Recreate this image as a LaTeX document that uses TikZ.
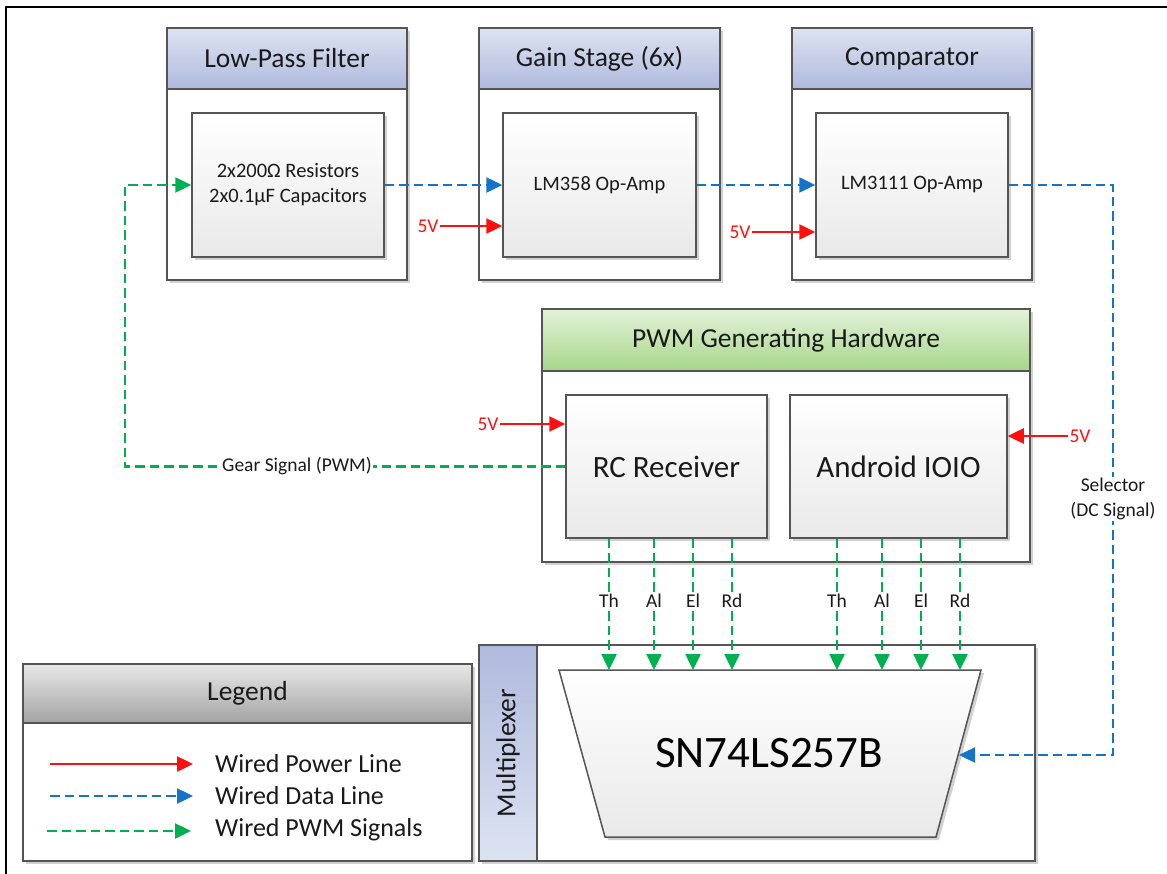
\documentclass[tikz,border=0pt]{standalone}
\usepackage{fontspec}
\usepackage{graphicx}
\setmainfont{Carlito}
\usetikzlibrary{arrows.meta,shadows}
\definecolor{txt}{HTML}{1A1A1A}
\definecolor{bord}{HTML}{555555}
\definecolor{pwr}{HTML}{FF1010}
\definecolor{dat}{HTML}{1573C9}
\definecolor{pwmc}{HTML}{00B050}
\definecolor{hb1}{HTML}{DEE3F2}
\definecolor{hb2}{HTML}{AFBADD}
\definecolor{hg1}{HTML}{E3F2D8}
\definecolor{hg2}{HTML}{A6D68A}
\definecolor{hy1}{HTML}{E8E8E8}
\definecolor{hy2}{HTML}{A3A3A3}
\definecolor{ib}{HTML}{E9E9E9}
\begin{document}
\begin{tikzpicture}[x=1pt,y=-1pt,
  every node/.style={text=txt},
  shd/.style={drop shadow={shadow xshift=3pt,shadow yshift=-3pt,opacity=0.18,fill=black}},
  grp/.style={draw=bord,line width=1.5pt,fill=white,rectangle,inner sep=0pt,shd},
  hdr/.style={draw=bord,line width=1.5pt,rectangle,inner sep=0pt,font=\fontsize{27.5}{32}\selectfont},
  inbox/.style={draw=bord,line width=1.5pt,rectangle,inner sep=0pt,top color=white,bottom color=ib,shd},
  smallf/.style={font=\fontsize{20.5}{25}\selectfont},
  bigf/.style={font=\fontsize{31}{36}\selectfont},
  lbl/.style={fill=white,inner sep=1.5pt,font=\fontsize{19.5}{24}\selectfont},
  vlbl/.style={inner sep=1pt,text=pwr,font=\fontsize{19.5}{24}\selectfont},
  tip/.style={-{Triangle[length=16pt,width=15pt]}},
  pwrline/.style={draw=pwr,line width=2.5pt,tip},
  datline/.style={draw=dat,line width=2.5pt,dash pattern=on 9.5pt off 5pt,tip},
  pwmline/.style={draw=pwmc,line width=2.5pt,dash pattern=on 9.5pt off 5pt,tip},
  legf/.style={anchor=west,inner sep=0pt,font=\fontsize{26}{30}\selectfont}]
\useasboundingbox (0,0) rectangle (1167,874);
% frame
\draw[line width=2.2pt,black] (6,874) -- (6,7) -- (1167,7);

% Low-pass filter
\node[grp,minimum width=240pt,minimum height=252pt] (lpfg) at (287,154) {};
\node[hdr,top color=hb1,bottom color=hb2,minimum width=240pt,minimum height=61pt] (lpfh) at (287,58.5) {Low-Pass Filter};
\node[inbox,smallf,align=center,minimum width=192pt,minimum height=144pt] (lpfin) at (288,185) {2x200Ω Resistors\\2x0.1µF Capacitors};

% Gain stage
\node[grp,minimum width=241pt,minimum height=252pt] (gaing) at (599.5,154) {};
\node[hdr,top color=hb1,bottom color=hb2,minimum width=241pt,minimum height=61pt] (gainh) at (599.5,58.5) {Gain Stage (6x)};
\node[inbox,smallf,minimum width=193pt,minimum height=144pt] (gainin) at (599.5,185) {LM358 Op-Amp};

% Comparator
\node[grp,minimum width=240pt,minimum height=252pt] (cmpg) at (912,154) {};
\node[hdr,top color=hb1,bottom color=hb2,minimum width=240pt,minimum height=61pt] (cmph) at (912,58.5) {Comparator};
\node[inbox,smallf,minimum width=192pt,minimum height=144pt] (cmpin) at (912,185) {LM3111 Op-Amp};

% PWM hardware
\node[grp,minimum width=488pt,minimum height=253pt] (pwmg) at (786,435.5) {};
\node[hdr,top color=hg1,bottom color=hg2,minimum width=488pt,minimum height=62pt] (pwmh) at (786,340) {PWM Generating Hardware};
\node[inbox,bigf,minimum width=201pt,minimum height=143pt] (rc) at (666.5,466.5) {RC Receiver};
\node[inbox,bigf,minimum width=217pt,minimum height=143pt] (io) at (898.5,466.5) {Android IOIO};

% Multiplexer
\node[grp,minimum width=556pt,minimum height=216pt] (muxg) at (757,753) {};
\node[hdr,top color=hb2,bottom color=hb1,minimum width=58pt,minimum height=216pt] (muxh) at (508,753) {\rotatebox{90}{Multiplexer}};
\shade[top color=white,bottom color=ib,draw=bord,line width=1.5pt,shd] (559,670) -- (981,670) -- (936,837) -- (605,837) -- cycle;
\node[font=\fontsize{45}{50}\selectfont,text=black] (chip) at (769,753) {SN74LS257B};

% Legend
\node[grp,minimum width=449pt,minimum height=197pt] (legg) at (247.5,762.5) {};
\node[hdr,top color=hy1,bottom color=hy2,minimum width=449pt,minimum height=59pt] (legh) at (247.5,693.5) {Legend};
\coordinate (lr1) at (50,764); \coordinate (lr2) at (193,764);
\coordinate (lb1) at (50,796); \coordinate (lb2) at (193,796);
\coordinate (lg1) at (47,831); \coordinate (lg2) at (191,831);
\draw[pwrline] (lr1) -- (lr2);
\draw[datline] (lb1) -- (lb2);
\draw[pwmline] (lg1) -- (lg2);
\node[legf] (lt1) at (215,764) {Wired Power Line};
\node[legf] (lt2) at (215,796) {Wired Data Line};
\node[legf] (lt3) at (215,830) {Wired PWM Signals};

% data lines
\draw[datline] (lpfin.east) -- (gainin.west);
\draw[datline] (gainin.east) -- (cmpin.west);
\coordinate (selc) at (1113,755);
\coordinate (chipR) at (959,755);
\draw[datline] (cmpin.east) -| (selc) -- (chipR);
\node[lbl,align=center,font=\fontsize{19.5}{25}\selectfont] (sel) at (1113,499) {Selector\\(DC Signal)};

% gear signal
\coordinate (gc) at (125,466.5);
\draw[pwmline] (rc.west) -- (gc) |- (lpfin.west);
\node[lbl] (gear) at (297,466) {Gear Signal (PWM)};

% power
\node[vlbl] (v1) at (428,226) {5V};
\draw[pwrline] (v1.east) -- (v1 -| gainin.west);
\node[vlbl] (v2) at (740,232) {5V};
\draw[pwrline] (v2.east) -- (v2 -| cmpin.west);
\node[vlbl] (v3) at (488,424) {5V};
\draw[pwrline] (v3.east) -- (v3 -| rc.west);
\node[vlbl] (v4) at (1080,436) {5V};
\draw[pwrline] (v4.west) -- (v4 -| io.east);

% pins
\foreach \x/\t [count=\i] in {609/Th,654/Al,693/El,732/Rd} {
  \coordinate (pa\i) at (\x,670);
  \draw[pwmline] (pa\i |- rc.south) -- (pa\i);
  \node[lbl] (la\i) at (\x,601) {\t};
}
\foreach \x/\t [count=\i] in {837/Th,882/Al,921/El,960/Rd} {
  \coordinate (pb\i) at (\x,670);
  \draw[pwmline] (pb\i |- io.south) -- (pb\i);
  \node[lbl] (lb\i) at (\x,601) {\t};
}
\end{tikzpicture}
\end{document}
